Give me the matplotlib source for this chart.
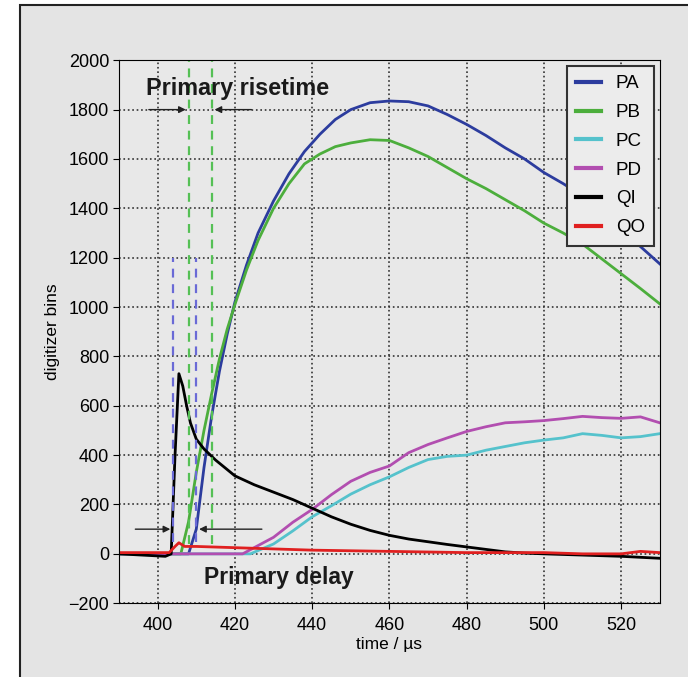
import matplotlib.pyplot as plt
from matplotlib.patches import Rectangle

plt.rcParams['font.family'] = ['Liberation Sans', 'DejaVu Sans']

# Signal traces
t_pa = [390, 408, 410, 412, 414, 416, 418, 420, 423, 426, 430, 434, 438, 442, 446, 450, 455, 460, 465,
        470, 475, 480, 485, 490, 495, 500, 505, 510, 515, 520, 525, 530]
pa = [0, 0, 100, 350, 560, 740, 890, 1020, 1170, 1300, 1430, 1540, 1630, 1700, 1760, 1800, 1828, 1835, 1832,
      1815, 1780, 1740, 1695, 1645, 1600, 1545, 1500, 1450, 1380, 1310, 1245, 1175]

t_pb = [390, 406, 408, 410, 412, 414, 416, 418, 420, 423, 426, 430, 434, 438, 442, 446, 450, 455, 460, 465,
        470, 475, 480, 485, 490, 495, 500, 505, 510, 515, 520, 525, 530]
pb = [0, 0, 130, 330, 500, 650, 790, 910, 1010, 1150, 1270, 1400, 1500, 1580, 1620, 1650, 1665, 1678, 1675, 1645,
      1610, 1565, 1520, 1480, 1435, 1390, 1340, 1300, 1255, 1195, 1135, 1075, 1013]

t_pc = [390, 424, 430, 435, 440, 445, 450, 455, 460, 465, 470, 475, 480, 485, 490, 495, 500, 505, 510, 515, 520, 525, 530]
pc = [0, 0, 40, 93, 150, 195, 242, 280, 312, 350, 382, 395, 400, 420, 435, 450, 461, 470, 487, 480, 470, 475, 487]

t_pd = [390, 422, 430, 435, 440, 445, 450, 455, 460, 465, 470, 475, 480, 485, 490, 495, 500, 505, 510, 515, 520, 525, 530]
pd_ = [0, 0, 67, 128, 180, 240, 294, 330, 356, 410, 443, 470, 496, 515, 531, 535, 540, 548, 557, 552, 549, 555, 531]

t_qi = [390, 402, 403.5, 404.5, 405.5, 406.5, 407.5, 408.5, 410, 412, 415, 420, 425, 430, 435, 440, 445, 450,
        455, 460, 465, 470, 475, 480, 485, 490, 495, 500, 510, 520, 530]
qi = [0, -10, 0, 400, 730, 680, 600, 530, 465, 425, 380, 316, 280, 250, 220, 185, 150, 120,
      95, 75, 60, 49, 38, 28, 18, 8, 3, 0, -5, -10, -18]

t_qo = [390, 403, 404.5, 405.5, 407, 410, 420, 430, 440, 460, 480, 500, 510, 520, 525, 530]
qo = [5, 5, 30, 45, 30, 30, 25, 20, 15, 10, 5, 5, 0, 0, 10, 5]

# marker lines
delay_x = [404, 410]
rise_x = [408, 414]

fig = plt.figure(figsize=(6.88, 6.77), dpi=100)
fig.patches.append(Rectangle((0.029, -0.01), 1.0, 1.0026, transform=fig.transFigure,
                             facecolor='#e4e4e4', edgecolor='#222222', linewidth=1.5, zorder=-5))
ax = fig.add_axes([0.173, 0.109, 0.786, 0.802])
ax.set_facecolor('#e8e8e8')

ax.plot(t_pa, pa, color='#2c3c9e', lw=2, label='PA')
ax.plot(t_pb, pb, color='#4cae3c', lw=2, label='PB')
ax.plot(t_pc, pc, color='#55c2cc', lw=2, label='PC')
ax.plot(t_pd, pd_, color='#b24eb0', lw=2, label='PD')
ax.plot(t_qi, qi, color='black', lw=2, label='QI')
ax.plot(t_qo, qo, color='#e02020', lw=2, label='QO')

for x in delay_x:
    ax.plot([x, x], [50, 1200], color='#6a6ad6', lw=1.6, ls=(0, (4, 3)))
for x in rise_x:
    ax.plot([x, x], [40, 2000], color='#55c055', lw=1.6, ls=(0, (4, 3)))

arrow = dict(arrowstyle='-|>', color='#222222', lw=1, mutation_scale=10)
ax.annotate('', xy=(408, 1800), xytext=(397, 1800), arrowprops=arrow)
ax.annotate('', xy=(414, 1800), xytext=(425, 1800), arrowprops=arrow)
ax.annotate('', xy=(404, 100), xytext=(393.5, 100), arrowprops=arrow)
ax.annotate('', xy=(410, 100), xytext=(427.7, 100), arrowprops=arrow)
ax.text(397, 1885, 'Primary risetime', fontsize=16.8, fontweight='bold', va='center', color='#1a1a1a')
ax.text(412, -95, 'Primary delay', fontsize=16.5, fontweight='bold', va='center', color='#1a1a1a')

ax.set_xlim(390, 530)
ax.set_ylim(-200, 2000)
ax.set_xticks(range(400, 521, 20))
ax.set_yticks(range(-200, 2001, 200))
ax.grid(True, color='#333333', ls=':', lw=1.2)
ax.tick_params(labelsize=13, direction='out', length=4, pad=3)
ax.tick_params(axis='x', pad=6)
ax.set_xlabel('time / µs', fontsize=12.5, labelpad=2)
ax.set_ylabel('digitizer bins', fontsize=12.5, labelpad=6)

leg = ax.legend(loc='upper right', fontsize=13.5, fancybox=False, framealpha=1,
                edgecolor='#333333', handlelength=1.3, borderaxespad=0.3, labelspacing=0.62,
                borderpad=0.5)
leg.get_frame().set_facecolor('#ececec')
leg.get_frame().set_linewidth(1.5)
for h in leg.get_lines():
    h.set_linewidth(3)

fig.savefig('out.png', dpi=100)
